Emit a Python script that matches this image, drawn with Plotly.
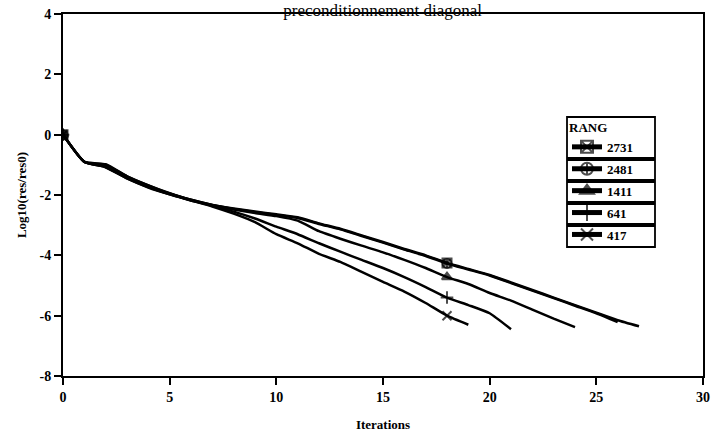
import plotly.graph_objects as go

# Iterations and log10(res/res0) per RANG
iters_417 = list(range(0, 20))
vals_417 = [0, -0.9, -1.08, -1.45, -1.75, -1.98, -2.18, -2.38, -2.62, -2.9,
            -3.3, -3.6, -3.95, -4.22, -4.55, -4.88, -5.2, -5.58, -6.0, -6.3]

iters_641 = list(range(0, 22))
vals_641 = [0, -0.9, -1.08, -1.45, -1.74, -1.98, -2.18, -2.36, -2.55, -2.78,
            -3.05, -3.3, -3.6, -3.88, -4.15, -4.42, -4.72, -5.05, -5.4, -5.65,
            -5.92, -6.45]

iters_1411 = list(range(0, 25))
vals_1411 = [0, -0.9, -1.05, -1.42, -1.72, -1.96, -2.17, -2.34, -2.48, -2.6,
             -2.7, -2.85, -3.2, -3.45, -3.68, -3.9, -4.15, -4.42, -4.72, -4.95,
             -5.25, -5.5, -5.8, -6.1, -6.38]

iters_2481 = list(range(0, 27))
vals_2481 = [0, -0.9, -1.0, -1.38, -1.68, -1.95, -2.16, -2.33, -2.46, -2.57,
             -2.66, -2.76, -2.96, -3.14, -3.36, -3.58, -3.81, -4.02, -4.27, -4.47,
             -4.67, -4.92, -5.17, -5.42, -5.67, -5.92, -6.21]

iters_2731 = list(range(0, 28))
vals_2731 = [0, -0.9, -0.98, -1.38, -1.68, -1.94, -2.16, -2.33, -2.45, -2.55,
             -2.64, -2.74, -2.94, -3.12, -3.34, -3.56, -3.79, -4.0, -4.25, -4.45,
             -4.65, -4.9, -5.15, -5.4, -5.65, -5.9, -6.15, -6.35]

x_ticks = [0, 5, 10, 15, 20, 25, 30]
y_ticks = [-8, -6, -4, -2, 0, 2, 4]

series = [
    ("2731", iters_2731, vals_2731, "square-x-open"),
    ("2481", iters_2481, vals_2481, "circle-cross-open"),
    ("1411", iters_1411, vals_1411, "triangle-up"),
    ("641", iters_641, vals_641, "cross-thin-open"),
    ("417", iters_417, vals_417, "x-thin-open"),
]

marked_iters = [0, 18]

fig = go.Figure()
for name, xs, ys, sym in series:
    sizes = [9 if x in marked_iters else 0 for x in xs]
    fig.add_trace(go.Scatter(
        x=xs, y=ys, name="<b>%s</b>" % name, mode="lines+markers",
        legendgroup=name,
        line=dict(color="black", width=2.5, shape="spline", smoothing=0.5),
        marker=dict(symbol=sym, size=sizes, color="black",
                    line=dict(color="black", width=2)),
    ))

# legend boxes (plot-area pixels: left 63, width 640, bottom 376, height 362)
def px_x(p):
    return (p - 63) / 640.0

def px_y(p):
    return (376 - p) / 362.0

legend_boxes = [(117, 158), (160, 180), (182, 202), (204, 224), (226, 247)]
shapes = []
for top, bot in legend_boxes:
    shapes.append(dict(type="rect", xref="paper", yref="paper",
                       x0=px_x(567), x1=px_x(655), y0=px_y(bot), y1=px_y(top),
                       line=dict(color="black", width=1.8),
                       fillcolor="white", layer="below"))

font_family = "Liberation Serif"
fig.update_layout(
    width=714, height=438,
    margin=dict(l=63, r=11, t=14, b=62),
    paper_bgcolor="white", plot_bgcolor="white",
    font=dict(family=font_family, color="black", size=14),
    title=dict(text="preconditionnement diagonal", x=0.536, xanchor="center",
               y=0.978, yanchor="middle", yref="container",
               font=dict(family=font_family, size=17, color="black")),
    showlegend=True,
    legend=dict(
        x=px_x(567), y=px_y(115), xanchor="left", yanchor="top",
        borderwidth=0, bgcolor="rgba(0,0,0,0)",
        title=dict(text="<b>RANG</b>", side="top", font=dict(size=13)),
        font=dict(family=font_family, size=13, color="black"),
        itemsizing="constant", tracegroupgap=2, itemwidth=30,
    ),
    shapes=shapes,
)
fig.update_xaxes(
    range=[0, 30], tickvals=x_ticks,
    ticktext=["<b>%d</b>" % v for v in x_ticks],
    showgrid=False, zeroline=False, automargin=False,
    showline=True, linecolor="black", linewidth=2, mirror=True,
    ticks="outside", ticklen=7, tickwidth=2, tickcolor="black",
    tickfont=dict(size=14),
    title=dict(text="<b>Iterations</b>", font=dict(size=13), standoff=16),
)
fig.update_yaxes(
    range=[-8, 4], tickvals=y_ticks,
    ticktext=["<b>%d</b>" % v for v in y_ticks],
    showgrid=False, zeroline=False, automargin=False,
    showline=True, linecolor="black", linewidth=2, mirror=True,
    ticks="outside", ticklen=7, tickwidth=2, tickcolor="black",
    tickfont=dict(size=14),
    title=dict(text="<b>Log10(res/res0)</b>", font=dict(size=13), standoff=10),
)

fig.write_html("out.html", config={"displayModeBar": False},
               post_script="document.body.style.margin='0';document.body.style.overflow='hidden';")
